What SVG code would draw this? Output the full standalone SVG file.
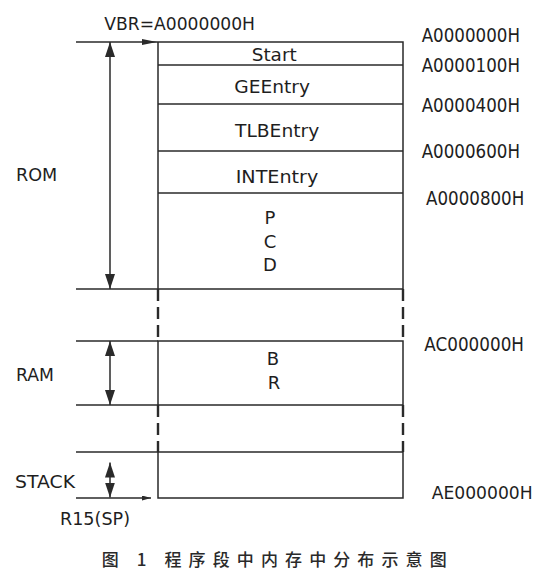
<svg xmlns="http://www.w3.org/2000/svg" width="543" height="579" viewBox="0 0 543 579">
  <style>
    .ln { stroke: #2a2a2a; stroke-width: 1.5; fill: none; }
    .dash { stroke: #2a2a2a; stroke-width: 2.4; fill: none; stroke-dasharray: 12 6; }
    .t { font-family: "DejaVu Sans", Verdana, sans-serif; font-size: 18px; fill: #1e1e1e; }
    .a { font-size: 19.5px; }
    .c { text-anchor: middle; }
    .cap { font-family: "Noto Sans CJK SC", "Noto Sans CJK TC", sans-serif; font-size: 17px; font-weight: 500; fill: #2a2a2a; }
  </style>
  <defs>
    <marker id="ah" viewBox="0 0 15 10" refX="15" refY="5" markerWidth="15" markerHeight="10" markerUnits="userSpaceOnUse" orient="auto-start-reverse">
      <path d="M0,0 L15,5 L0,10 z" fill="#2a2a2a"/>
    </marker>
    <marker id="ahs" viewBox="0 0 15 6" refX="15" refY="3" markerWidth="15" markerHeight="6" markerUnits="userSpaceOnUse" orient="auto">
      <path d="M0,0 L15,3 L0,6 z" fill="#2a2a2a"/>
    </marker>
    <marker id="ahr" viewBox="0 0 9 5" refX="9" refY="2.5" markerWidth="9" markerHeight="5" markerUnits="userSpaceOnUse" orient="auto">
      <path d="M0,0 L9,2.5 L0,5 z" fill="#2a2a2a"/>
    </marker>
  </defs>
  <rect width="543" height="579" fill="#ffffff"/>

  <g id="connectors">
    <line class="ln" x1="76" y1="42" x2="157" y2="42" marker-end="url(#ahs)"/>
    <line class="ln" x1="110" y1="42" x2="110" y2="289" marker-start="url(#ah)" marker-end="url(#ah)"/>
    <line class="ln" x1="110" y1="341" x2="110" y2="405" marker-start="url(#ah)" marker-end="url(#ah)"/>
    <line class="ln" x1="110" y1="462.5" x2="110" y2="497.5" marker-start="url(#ah)" marker-end="url(#ah)"/>
    <line class="ln" x1="76" y1="498" x2="151" y2="498" marker-end="url(#ahr)"/>
    <line class="ln" x1="76" y1="289" x2="158" y2="289"/>
    <line class="ln" x1="76" y1="341" x2="158" y2="341"/>
    <line class="ln" x1="76" y1="405" x2="158" y2="405"/>
    <line class="ln" x1="76" y1="452" x2="158" y2="452"/>
  </g>

  <g id="rom-block">
    <path class="ln" d="M157,42 H403 V289 H158 V42"/>
    <line class="ln" x1="158" y1="65" x2="403" y2="65"/>
    <line class="ln" x1="158" y1="104" x2="403" y2="104"/>
    <line class="ln" x1="158" y1="151" x2="403" y2="151"/>
    <line class="ln" x1="158" y1="193" x2="403" y2="193"/>
  </g>
  <g id="node-start"><text class="t" x="251.7" y="60.5" textLength="45" lengthAdjust="spacingAndGlyphs">Start</text></g>
  <g id="node-geentry"><text class="t" x="234.3" y="92.5" textLength="75.7" lengthAdjust="spacingAndGlyphs">GEEntry</text></g>
  <g id="node-tlbentry"><text class="t" x="235" y="137.3" textLength="84.3" lengthAdjust="spacingAndGlyphs">TLBEntry</text></g>
  <g id="node-intentry"><text class="t" x="235.7" y="182.7" textLength="82.6" lengthAdjust="spacingAndGlyphs">INTEntry</text></g>
  <g id="node-pcd">
    <text class="t c" x="270" y="223.7">P</text>
    <text class="t c" x="270" y="247.7">C</text>
    <text class="t c" x="270" y="271">D</text>
  </g>

  <g id="gap-1">
    <line class="dash" x1="158" y1="289" x2="158" y2="341"/>
    <line class="dash" x1="403" y1="289" x2="403" y2="341"/>
  </g>

  <g id="node-br">
    <path class="ln" d="M158,341 H403 V405 H158 Z"/>
    <text class="t c" x="273" y="365">B</text>
    <text class="t c" x="274" y="389">R</text>
  </g>

  <g id="gap-2">
    <line class="dash" x1="158" y1="405" x2="158" y2="452"/>
    <line class="dash" x1="403" y1="405" x2="403" y2="452"/>
  </g>

  <g id="node-stack">
    <path class="ln" d="M158,452 H403 V498 H158 Z"/>
  </g>

  <g id="labels">
    <text class="t" x="104.3" y="30" textLength="150.7" lengthAdjust="spacingAndGlyphs">VBR=A0000000H</text>
    <text class="t" x="16" y="180.7" textLength="41.3" lengthAdjust="spacingAndGlyphs">ROM</text>
    <text class="t" x="16" y="380.7" textLength="38" lengthAdjust="spacingAndGlyphs">RAM</text>
    <text class="t" x="15" y="488" textLength="60" lengthAdjust="spacingAndGlyphs">STACK</text>
    <text class="t" x="60" y="525" textLength="70" lengthAdjust="spacingAndGlyphs">R15(SP)</text>
    <text class="t a" x="421.7" y="41.7" textLength="98.3" lengthAdjust="spacingAndGlyphs">A0000000H</text>
    <text class="t a" x="421.7" y="71.7" textLength="98.3" lengthAdjust="spacingAndGlyphs">A0000100H</text>
    <text class="t a" x="421.7" y="111.7" textLength="98.3" lengthAdjust="spacingAndGlyphs">A0000400H</text>
    <text class="t a" x="421.7" y="158.3" textLength="98.3" lengthAdjust="spacingAndGlyphs">A0000600H</text>
    <text class="t a" x="426" y="205" textLength="98.3" lengthAdjust="spacingAndGlyphs">A0000800H</text>
    <text class="t a" x="424.3" y="350.7" textLength="99.7" lengthAdjust="spacingAndGlyphs">AC000000H</text>
    <text class="t" x="431.7" y="499" textLength="101" lengthAdjust="spacingAndGlyphs">AE000000H</text>
    <text class="cap" x="101.7" y="566" textLength="345" lengthAdjust="spacing">图 1 程序段中内存中分布示意图</text>
  </g>
</svg>
